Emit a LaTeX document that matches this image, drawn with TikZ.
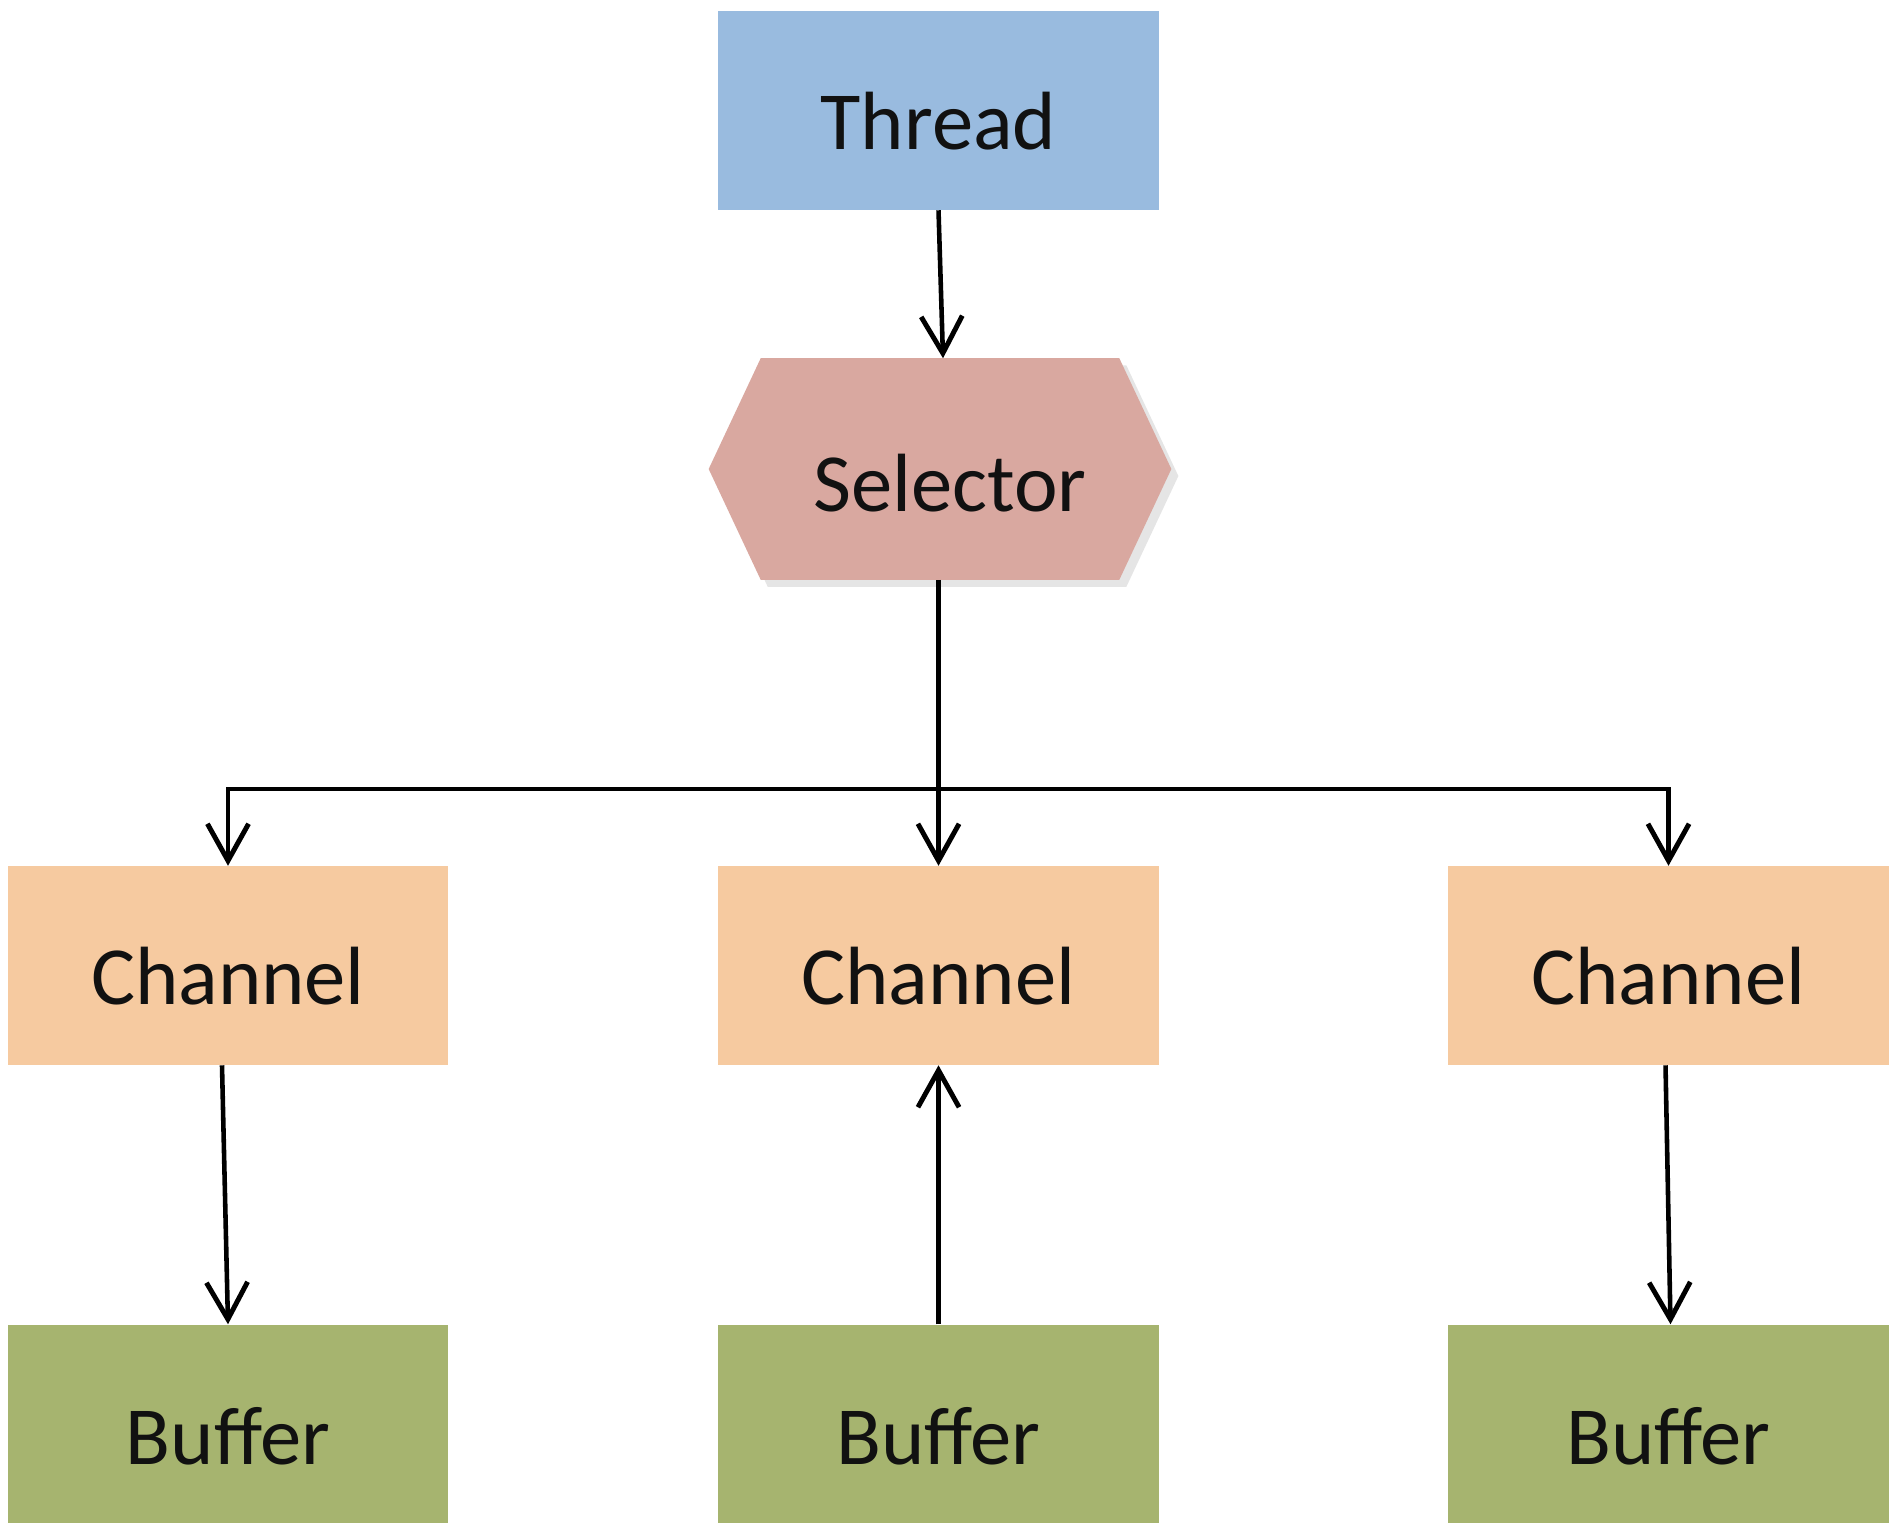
\documentclass[tikz,border=0pt]{standalone}
\usepackage{fontspec}
\setmainfont{Carlito}
\usetikzlibrary{arrows.meta,shadows,backgrounds}
\definecolor{thrc}{HTML}{99BBDF}
\definecolor{selc}{HTML}{D9A8A0}
\definecolor{chc}{HTML}{F6CAA0}
\definecolor{bufc}{HTML}{A6B46F}
\definecolor{txtc}{HTML}{111111}
\begin{document}
\begin{tikzpicture}[x=0.01cm,y=-0.01cm,
  lbl/.style={inner sep=0pt, font=\fontsize{23.5pt}{28pt}\selectfont, text=txtc, text depth=0pt},
  box/.style={lbl, rectangle, minimum width=4.40cm, minimum height=1.98cm, text height=21.9pt},
  bufbox/.style={box, fill=bufc, text height=23.1pt},
  chbox/.style={box, fill=chc},
  tip/.tip={Straight Barb[length=10.5pt,width=11.7pt,line width=1.4pt]},
  arw/.style={line width=1.3pt, -tip},
  arwboth/.style={line width=1.3pt, tip-tip}]
\useasboundingbox (0,0) rectangle (1898,1536);
% nodes
\node[box, fill=thrc] (thr) at (938.5,110.5) {Thread};
\node[lbl, minimum width=4.61cm, minimum height=2.20cm, text height=24.3pt] (sel) at (940,469) {\hspace*{5.7pt}Selector};
\begin{scope}[on background layer]
  \fill[white] (0,0) rectangle (1898,1536);
  \fill[selc, drop shadow={shadow xshift=2pt, shadow yshift=-2pt, opacity=0.2}]
    (sel.west) -- ([xshift=0.52cm]sel.north west) -- ([xshift=-0.52cm]sel.north east)
    -- (sel.east) -- ([xshift=-0.52cm]sel.south east) -- ([xshift=0.52cm]sel.south west) -- cycle;
\end{scope}
\node[chbox] (ch1) at (228,965.5) {Channel};
\node[chbox] (ch2) at (938.5,965.5) {Channel};
\node[chbox] (ch3) at (1668.5,965.5) {Channel};
\node[bufbox] (buf1) at (228,1424) {Buffer};
\node[bufbox] (buf2) at (938.5,1424) {Buffer};
\node[bufbox] (buf3) at (1668.5,1424) {Buffer};
\coordinate (bar) at (938.5,789);
% connectors
\draw[arw] (thr.south) -- ([xshift=0.03cm]sel.north);
\draw[arw] (sel.south -| ch2) -- (ch2.north);
\draw[arwboth] (ch1.north) -- (bar -| ch1) -- (bar -| ch3) -- (ch3.north);
\draw[arw] ([xshift=-0.06cm]ch1.south) -- (buf1.north);
\draw[arw] (buf2.north) -- (ch2.south);
\draw[arw] ([xshift=-0.03cm]ch3.south) -- ([xshift=0.02cm]buf3.north);
\end{tikzpicture}
\end{document}
